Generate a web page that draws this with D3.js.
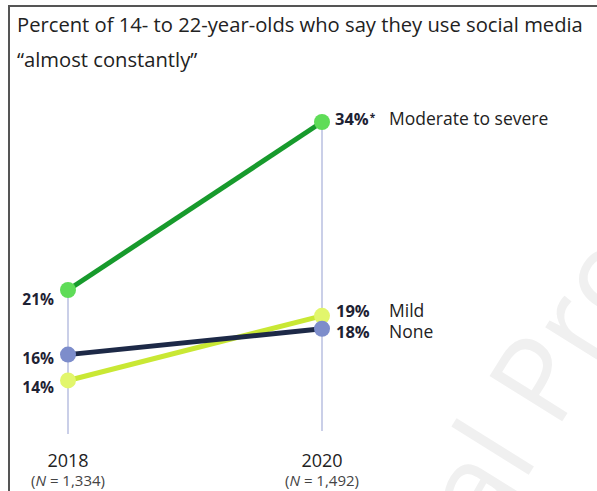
<!DOCTYPE html>
<html><head><meta charset="utf-8">
<script src="https://cdn.jsdelivr.net/npm/d3@7"></script>
<style>body{margin:0;background:#fff;}svg{display:block;}</style>
</head><body>
<svg id="c" width="597" height="491"></svg>
<script>
const years = ["2018", "2020"];
const sampleSizes = ["1,334", "1,492"];
const seriesNames = ["Moderate to severe", "Mild", "None"];
const values2018 = [21, 14, 16];
const values2020 = [34, 19, 18];
const lineColors = ["#179a2c", "#c9e834", "#1d2947"];
const dotColors = ["#5fdc58", "#e2f66c", "#7d8dcb"];
const titleLines = ["Percent of 14- to 22-year-olds who say they use social media", "\u201Calmost constantly\u201D"];

const svg = d3.select("#c");
const font = "'Open Sans', 'Noto Sans', sans-serif";

// frame
svg.append("path").attr("d","M9,491 V6 H597").attr("fill","none").attr("stroke","#555").attr("stroke-width",2);

// watermark
svg.append("text").attr("transform","translate(488,540) rotate(-58)")
  .attr("font-family",font).attr("font-size",120).attr("fill","#f0f0f0").text("al Pro");

// title
svg.selectAll("text.title").data(titleLines).join("text").attr("class","title")
  .attr("x",17).attr("y",(d,i)=>32+i*35).attr("font-family",font).attr("font-size",20.2)
  .attr("fill","#222").text(d=>d);

const x = d3.scalePoint().domain(years).range([68,322]);
const y = d3.scaleLinear().domain([21,34]).range([290,122]);

// vertical guides
svg.append("line").attr("x1",x("2018")).attr("x2",x("2018")).attr("y1",y(d3.max(values2018))).attr("y2",434)
  .attr("stroke","#b9bfe0").attr("stroke-width",1.5);
svg.append("line").attr("x1",x("2020")).attr("x2",x("2020")).attr("y1",y(d3.max(values2020))).attr("y2",431)
  .attr("stroke","#b9bfe0").attr("stroke-width",1.5);

const data = seriesNames.map((n,i)=>({name:n, a:values2018[i], b:values2020[i], i}));
const order = [1,2,0];
order.forEach(i=>{
  const d = data[i];
  svg.append("line").attr("x1",x("2018")).attr("y1",y(d.a)).attr("x2",x("2020")).attr("y2",y(d.b))
    .attr("stroke",lineColors[i]).attr("stroke-width",5);
});
order.forEach(i=>{
  const d = data[i];
  [[x("2018"),y(d.a)],[x("2020"),y(d.b)]].forEach(p=>{
    svg.append("circle").attr("cx",p[0]).attr("cy",p[1]).attr("r",8).attr("fill",dotColors[i]);
  });
});

// left labels
const leftOffsets = [15, 13, 9];
data.forEach((d,i)=>{
  svg.append("text").attr("x",54).attr("y",y(d.a)+leftOffsets[i]).attr("text-anchor","end")
    .attr("font-family",font).attr("font-weight",700).attr("font-size",15.5).attr("fill","#1e2233")
    .text(d.a+"%");
});

// right labels: top series alone, the two close ones as one stacked block
const topSeries = data[0];
const tTop = svg.append("text").attr("x",335).attr("y",y(topSeries.b)+3)
  .attr("font-family",font).attr("font-size",16.5).attr("fill","#1e2233");
tTop.append("tspan").attr("font-weight",700).text(topSeries.b+"%");
tTop.append("tspan").attr("font-weight",700).attr("font-size",10).attr("dy",-4).attr("dx",1).text("*");
svg.append("text").attr("x",389).attr("y",y(topSeries.b)+3).attr("font-family",font).attr("font-size",17.5)
  .attr("fill","#222").text(topSeries.name);

const low = [data[1], data[2]];
const yMild = y(low[0].b)+1, yNone = y(low[1].b)+9.5;
const tv = svg.append("text").attr("font-family",font).attr("font-size",16.5).attr("font-weight",700).attr("fill","#1e2233");
tv.append("tspan").attr("x",336).attr("y",yMild).text(low[0].b+"%");
tv.append("tspan").attr("x",336).attr("y",yNone).text(low[1].b+"%");
const tn = svg.append("text").attr("font-family",font).attr("font-size",17.5).attr("fill","#222");
tn.append("tspan").attr("x",389).attr("y",yMild).text(low[0].name);
tn.append("tspan").attr("x",389).attr("y",yNone).text(low[1].name);

// x labels
years.forEach((yr,i)=>{
  svg.append("text").attr("x",x(yr)).attr("y",467).attr("text-anchor","middle")
    .attr("font-family",font).attr("font-size",18).attr("fill","#222").text(yr);
  const t = svg.append("text").attr("x",x(yr)).attr("y",486).attr("text-anchor","middle")
    .attr("font-family",font).attr("font-size",15).attr("fill","#444");
  t.append("tspan").text("(");
  t.append("tspan").attr("font-style","italic").text("N");
  t.append("tspan").text(" = "+sampleSizes[i]+")");
});
</script>
</body></html>
